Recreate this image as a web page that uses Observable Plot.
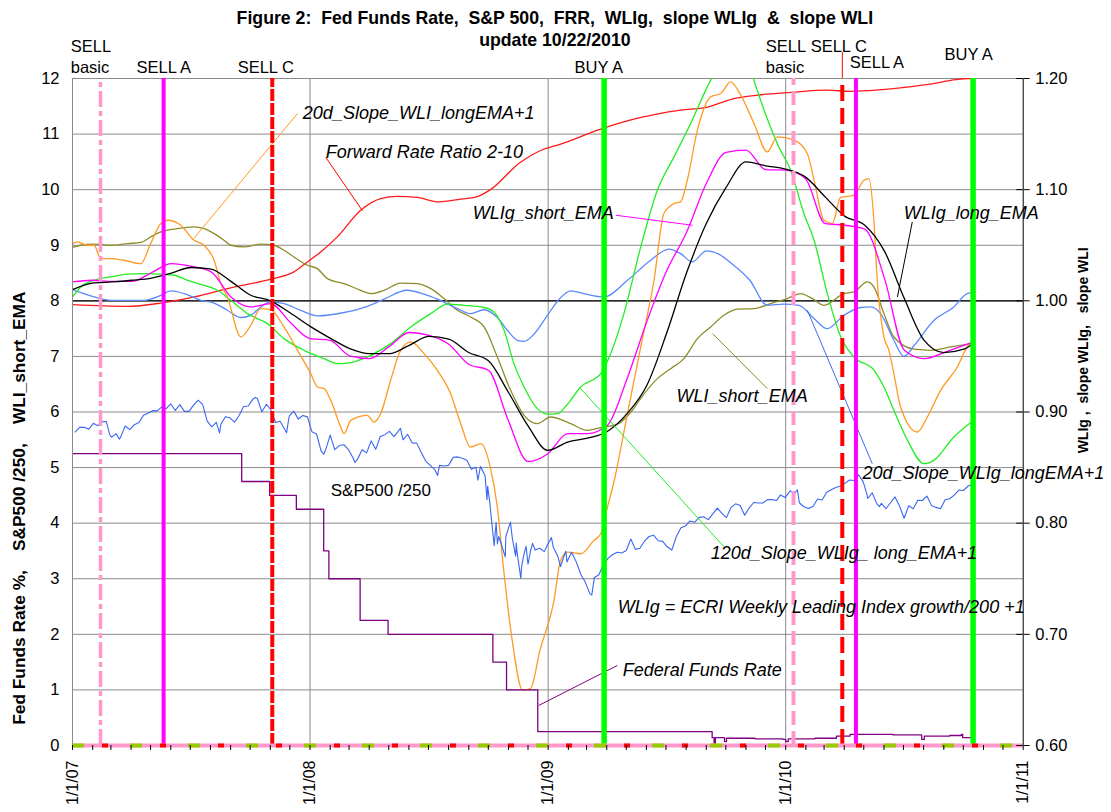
<!DOCTYPE html>
<html>
<head>
<meta charset="utf-8">
<script src="https://cdn.jsdelivr.net/npm/d3@7"></script>
<script src="https://cdn.jsdelivr.net/npm/@observablehq/plot@0.6"></script>
<style>
  body { margin: 0; background: #fff; }
  #chart { position: relative; width: 1111px; height: 812px; }
  #chart svg text { white-space: pre; }
</style>
</head>
<body>
<div id="chart"></div>
<script>
const FONT = "'Liberation Sans', Arial, Helvetica, sans-serif";
const T0 = Date.UTC(2007, 0, 1);
// time readings are given in months since 1/1/2007 (fractional), or as ISO dates
const M = m => new Date(T0 + m * 30.4375 * 864e5);
const D = s => new Date(s + "T00:00:00Z");

// ---------- Federal Funds Rate (%) ----------
const fedDates = ["2007-01-01","2007-09-18","2007-10-31","2007-12-11","2008-01-22","2008-01-30","2008-03-18","2008-04-30","2008-10-08","2008-10-29","2008-12-16","2009-09-10","2009-09-13","2009-09-15","2009-09-29","2009-10-02","2009-11-15","2009-12-28","2010-01-01","2010-01-05","2010-02-15","2010-03-20","2010-04-10","2010-06-15","2010-07-27","2010-07-29","2010-08-02","2010-09-10","2010-09-28","2010-09-30","2010-10-15"];
const fedRate  = [5.25,4.75,4.5,4.25,3.5,3.0,2.25,2.0,1.5,1.0,0.25,0.14,0.03,0.14,0.07,0.13,0.12,0.11,0.07,0.12,0.13,0.17,0.2,0.19,0.19,0.11,0.17,0.18,0.2,0.14,0.18];

// ---------- S&P 500 (index level; plotted /250) ----------
const spDates = ["2007-01-05","2007-01-12","2007-01-19","2007-01-26","2007-02-02","2007-02-09","2007-02-16","2007-02-22","2007-02-27","2007-03-02","2007-03-09","2007-03-14","2007-03-16","2007-03-23","2007-03-30","2007-04-06","2007-04-13","2007-04-20","2007-04-27","2007-05-04","2007-05-11","2007-05-18","2007-05-25","2007-06-01","2007-06-08","2007-06-15","2007-06-22","2007-06-29","2007-07-06","2007-07-13","2007-07-20","2007-07-27","2007-08-03","2007-08-10","2007-08-15","2007-08-17","2007-08-24","2007-08-31","2007-09-07","2007-09-14","2007-09-21","2007-09-28","2007-10-05","2007-10-09","2007-10-12","2007-10-19","2007-10-26","2007-11-02","2007-11-09","2007-11-16","2007-11-26","2007-11-30","2007-12-07","2007-12-14","2007-12-21","2007-12-28",
"2008-01-04","2008-01-11","2008-01-18","2008-01-22","2008-01-25","2008-02-01","2008-02-08","2008-02-15","2008-02-22","2008-02-29","2008-03-07","2008-03-10","2008-03-14","2008-03-21","2008-03-28","2008-04-04","2008-04-11","2008-04-18","2008-04-25","2008-05-02","2008-05-09","2008-05-19","2008-05-23","2008-05-30","2008-06-06","2008-06-13","2008-06-20","2008-06-27","2008-07-03","2008-07-11","2008-07-15","2008-07-18","2008-07-25","2008-08-01","2008-08-08","2008-08-15","2008-08-22","2008-08-29","2008-09-05","2008-09-12","2008-09-15","2008-09-19","2008-09-26","2008-09-29","2008-09-30","2008-10-03","2008-10-10","2008-10-13","2008-10-15","2008-10-17","2008-10-22","2008-10-27","2008-10-28","2008-10-31","2008-11-04","2008-11-07","2008-11-12","2008-11-13","2008-11-14","2008-11-20","2008-11-21","2008-11-24","2008-11-28","2008-12-01","2008-12-05","2008-12-08","2008-12-12","2008-12-19","2008-12-26","2008-12-31",
"2009-01-06","2009-01-09","2009-01-16","2009-01-20","2009-01-23","2009-01-28","2009-01-30","2009-02-06","2009-02-13","2009-02-20","2009-02-27","2009-03-06","2009-03-09","2009-03-13","2009-03-20","2009-03-27","2009-04-03","2009-04-09","2009-04-17","2009-04-24","2009-05-01","2009-05-08","2009-05-15","2009-05-22","2009-05-29","2009-06-05","2009-06-12","2009-06-19","2009-06-26","2009-07-02","2009-07-10","2009-07-17","2009-07-24","2009-07-31","2009-08-07","2009-08-14","2009-08-21","2009-08-28","2009-09-04","2009-09-11","2009-09-18","2009-09-25","2009-10-02","2009-10-09","2009-10-16","2009-10-23","2009-10-30","2009-11-06","2009-11-13","2009-11-20","2009-11-27","2009-12-04","2009-12-11","2009-12-18","2009-12-24","2009-12-31",
"2010-01-08","2010-01-15","2010-01-19","2010-01-22","2010-01-29","2010-02-05","2010-02-12","2010-02-19","2010-02-26","2010-03-05","2010-03-12","2010-03-19","2010-03-26","2010-04-02","2010-04-09","2010-04-16","2010-04-23","2010-04-30","2010-05-06","2010-05-07","2010-05-14","2010-05-21","2010-05-25","2010-05-28","2010-06-04","2010-06-11","2010-06-18","2010-06-25","2010-07-02","2010-07-09","2010-07-16","2010-07-23","2010-07-30","2010-08-06","2010-08-13","2010-08-20","2010-08-27","2010-09-03","2010-09-10","2010-09-17","2010-09-24","2010-10-01","2010-10-08","2010-10-15"];
const spClose = [1410,1431,1431,1423,1449,1438,1456,1457,1399,1387,1402,1378,1387,1437,1421,1443,1453,1485,1494,1506,1505,1522,1515,1537,1507,1533,1503,1503,1531,1553,1534,1459,1433,1453,1406,1445,1479,1474,1454,1484,1525,1527,1557,1565,1561,1501,1535,1509,1453,1458,1407,1481,1504,1468,1484,1478,
1411,1401,1325,1310,1330,1396,1331,1349,1353,1331,1294,1273,1288,1330,1316,1370,1332,1390,1398,1413,1389,1426,1375,1400,1361,1360,1318,1278,1262,1240,1214,1260,1257,1260,1296,1298,1292,1283,1242,1252,1193,1255,1213,1106,1166,1099,899,1003,907,940,896,848,941,969,1005,930,852,911,873,752,800,851,896,816,876,909,879,887,872,903,
935,890,850,805,832,874,826,869,827,770,735,683,677,756,768,815,842,857,869,866,877,929,882,887,919,940,946,921,918,896,879,940,979,987,1010,1004,1026,1029,1016,1042,1068,1044,1025,1071,1087,1079,1036,1069,1093,1091,1091,1106,1106,1102,1127,1115,
1145,1136,1150,1092,1074,1066,1075,1109,1104,1139,1150,1160,1167,1179,1194,1192,1217,1187,1128,1111,1136,1088,1074,1089,1065,1092,1118,1077,1022,1078,1065,1103,1102,1122,1080,1071,1065,1105,1110,1126,1149,1147,1166,1176];

// ---------- Forward Rate Ratio 2-10 (left-scale units) ----------
const frrT = [0,2.78,4.46,6.14,7.82,10.01,11.18,11.86,12.53,13.37,14.55,15.56,16.4,17.4,18.5,19.6,20.4,21.1,22.6,23.6,24.65,26.67,28.7,29.5,30.7,32.0,33.3,34.6,36.3,38.1,39.3,40.6,42.0,43.3,44.6,45.2,45.43];
const frrV = [7.93,7.9,7.96,8.07,8.22,8.39,8.52,8.7,8.88,9.15,9.63,9.84,9.88,9.86,9.78,9.83,9.87,10.0,10.49,10.7,10.82,11.09,11.3,11.36,11.43,11.48,11.63,11.7,11.75,11.79,11.77,11.79,11.84,11.9,11.98,12.0,12.0];

// ---------- WLIg_long_EMA (black) ----------
const longT = [0,1,2,3,4,5,6,7,8,9,10,11,12,13,14,15,16,17,18,19,20,21,22,23,24,25,26,27,28,29,30,31,32,33,34,35,36,37,38,39,40,41,42,43,44,45,45.43];
const longV = [8.2,8.32,8.34,8.37,8.41,8.5,8.6,8.57,8.35,8.1,8.0,7.78,7.54,7.33,7.14,7.05,7.05,7.2,7.36,7.31,7.07,6.92,6.36,5.75,5.31,5.46,5.53,5.65,5.97,6.48,7.42,8.5,9.39,10.04,10.5,10.43,10.37,10.23,9.87,9.52,9.36,8.89,8.04,7.29,7.07,7.13,7.22];

// ---------- WLIg_short_EMA (magenta) ----------
const shortT = longT;
const shortV = [8.34,8.37,8.35,8.35,8.51,8.67,8.62,8.52,8.07,7.89,7.95,7.61,7.32,7.29,7.01,6.96,7.18,7.43,7.38,7.22,6.86,6.75,5.85,5.11,5.25,5.61,5.61,5.76,6.6,7.63,8.54,9.23,10.11,10.67,10.71,10.36,10.35,10.2,9.39,9.36,9.29,8.4,7.11,6.96,7.07,7.2,7.25];

// ---------- 20d_Slope_WLI_longEMA+1 (orange) ----------
const wliSlopeT = [0,0.25,0.76,1.09,1.43,1.93,2.6,3.45,3.95,4.46,4.8,5.47,6.14,6.64,7.15,7.49,7.82,8.5,9.0,9.5,10.0,10.68,11.36,12.03,12.37,12.7,13.04,13.54,13.71,14.05,14.89,15.22,15.56,16.06,16.57,17.08,17.75,18.42,19.09,19.6,20.1,20.61,21.11,21.45,21.79,22.2,22.73,23.13,23.6,24.31,24.64,24.99,25.66,26.33,26.67,27.01,27.34,28.02,28.69,29.36,29.86,30.37,30.7,31.04,31.55,32.22,32.73,33.23,33.74,34.41,35.08,35.59,36.43,37.1,37.44,37.94,38.36,38.78,39.45,39.96,40.21,40.46,40.63,40.97,41.22,41.47,41.81,42.65,43.16,43.83,44.67,45.17,45.43];
const wliSlopeV = [9.03,9.06,9.0,9.0,8.76,8.76,8.73,8.67,9.03,9.39,9.45,9.36,9.09,9.0,8.73,8.31,8.07,7.35,7.56,7.86,7.84,7.53,7.11,6.69,6.45,6.42,6.21,5.73,5.61,5.85,5.94,5.82,5.97,6.57,7.11,7.26,7.05,6.75,6.33,5.79,5.37,5.43,4.98,4.29,3.09,1.89,0.99,1.03,1.71,2.61,3.33,3.48,3.45,3.69,3.81,4.29,4.75,5.97,7.17,8.37,9.57,9.75,9.78,10.17,11.07,11.67,11.73,11.94,11.7,11.19,10.68,10.95,10.89,10.65,10.17,9.45,9.39,9.86,9.9,10.17,10.2,9.45,8.37,7.35,7.11,6.69,6.09,5.64,5.91,6.39,6.81,7.17,7.29];

// ---------- 120d_Slope_WLIg_long_EMA+1 (green) ----------
const slope120T = [0,0.42,1.09,1.93,2.78,3.62,4.46,5.13,5.81,6.64,7.32,7.99,8.83,9.84,10.68,11.69,12.7,13.37,13.88,15.06,16.07,17.08,18.09,18.93,19.77,20.78,21.28,21.79,22.29,22.8,23.47,23.98,24.49,24.99,25.66,26.67,27.17,27.84,28.69,29.53,30.37,31.21,32.05,32.8,33.5,34.2,34.4,34.98,35.66,36.26,36.93,37.44,38.11,38.79,39.45,40.47,40.97,41.47,42.16,42.99,43.49,44.5,45.51];
const slope120V = [8.07,8.25,8.37,8.43,8.48,8.49,8.48,8.46,8.37,8.28,8.19,8.01,7.77,7.59,7.32,7.11,6.96,6.87,6.88,7.02,7.23,7.53,7.77,7.94,7.92,7.88,7.8,7.47,6.87,6.45,6.06,5.96,5.97,6.14,6.45,6.69,7.05,7.77,8.97,9.99,10.59,11.19,11.85,12.33,12.5,12.18,11.97,11.37,10.77,10.35,9.57,9.09,8.13,7.35,6.99,6.75,6.45,6.03,5.49,5.07,5.13,5.55,5.85];

// ---------- WLI_short_EMA (olive) ----------
const wliShortT = [0,0.42,1.09,1.93,2.78,3.45,3.95,4.46,5.3,6.14,6.64,7.15,7.65,7.99,8.66,9.5,10.17,10.68,11.18,11.86,12.36,12.87,13.71,14.55,15.06,15.73,16.57,17.41,18.09,18.76,19.43,20.1,20.78,21.45,22.12,22.8,23.47,24.14,25.15,25.99,26.67,27.51,28.1,28.8,29.53,30.2,30.87,31.55,32.22,32.89,33.56,34.41,35.25,36.09,36.76,37.35,37.94,38.95,39.45,40.13,40.46,40.97,41.47,42.49,43.33,44.34,45.4];
const wliShortV = [8.96,9.0,9.02,9.0,9.03,9.05,9.15,9.24,9.3,9.33,9.3,9.21,9.09,9.0,8.97,9.02,9.0,8.91,8.79,8.64,8.58,8.4,8.31,8.19,8.13,8.19,8.32,8.31,8.22,8.04,7.83,7.71,7.53,6.99,6.39,5.94,5.79,5.91,5.79,5.67,5.72,5.78,5.96,6.3,6.6,6.78,6.96,7.32,7.53,7.74,7.85,7.86,7.95,8.04,8.13,8.04,7.92,8.13,8.16,8.34,8.25,7.77,7.35,7.13,7.11,7.17,7.23];

// ---------- 20d_Slope_WLIg_longEMA+1 (blue) ----------
const slope20T = [0,1.09,1.93,3.62,4.46,4.96,5.64,6.48,7.15,7.82,8.5,9.0,9.5,10.01,10.68,11.52,12.37,13.71,14.89,15.73,16.89,17.75,18.42,19.43,20.1,20.78,21.45,21.96,22.46,22.8,23.3,23.98,24.65,25.15,25.82,26.83,28.02,29.19,30.11,30.7,31.29,32.0,32.63,33.28,34.2,35.08,35.9,36.68,37.44,38.11,38.95,39.8,40.3,40.8,41.47,41.98,42.5,43.5,44.5,45.17,45.6];
const slope20V = [8.2,8.07,8.01,8.01,8.1,8.18,8.13,8.01,7.96,7.83,7.7,7.74,7.89,7.98,7.95,7.83,7.73,7.79,7.9,8.03,8.19,8.12,8.03,7.86,7.77,7.84,7.7,7.47,7.29,7.27,7.4,7.74,8.06,8.18,8.13,8.07,8.37,8.73,8.93,8.85,8.7,8.9,8.84,8.67,8.37,7.92,7.94,7.92,7.68,7.5,7.74,7.88,7.89,7.77,7.29,7.0,7.2,7.65,7.89,8.13,8.16];

// ---------- signals ----------
const sigDates = ["2007-02-13","2007-05-21","2007-11-04","2009-03-28","2010-01-13","2010-03-29","2010-04-19","2010-10-16"];
const sigTypes = ["SELL basic","SELL A","SELL C","BUY A","SELL basic","SELL C","SELL A","BUY A"];
const sigLabelText = ["SELL","basic","SELL A","SELL C","BUY A","SELL","basic","SELL C","SELL A","BUY A"];
const sigLabelT = [-0.09,-0.09,4.61,9.76,26.57,35.0,35.0,37.27,39.24,44.03];
const sigLabelV = [12.58,12.2,12.2,12.2,12.2,12.58,12.2,12.58,12.29,12.42];
const sigLabelCentered = [false,false,true,true,true,false,false,false,false,false];

// ---------- annotations ----------
const noteText = ["20d_Slope_WLI_longEMA+1","Forward Rate Ratio 2-10","WLIg_short_EMA","WLIg_long_EMA","WLI_short_EMA","20d_Slope_WLIg_longEMA+1","120d_Slope_WLIg_ long_EMA+1","S&P500 /250","WLIg = ECRI Weekly Leading Index growth/200 +1","Federal Funds Rate"];
const noteT = [11.63,12.79,20.21,41.97,30.5,39.89,32.22,13.04,27.53,27.78];
const noteV = [11.37,10.67,9.57,9.57,6.28,4.89,3.46,4.59,2.48,1.35];
const noteItalic = [true,true,true,true,true,true,true,false,true,true];
const leadT1 = [11.36,12.79,27.43,42.4,35.08,37.1,25.66,27.51];
const leadV1 = [11.37,10.58,9.54,9.42,6.42,7.83,6.42,1.44];
const leadT2 = [6.12,14.64,31.3,41.65,32.32,40.38,32.88,23.54];
const leadV2 = [9.12,9.62,9.36,8.07,7.41,5.07,3.58,0.72];
const leadColor = ["#ff9922","#ff0000","#ff00ff","#000000","#8c8c2a","#3a6cf5","#22ee22","#800080"];

// ---------- axes ----------
const leftTicks = [0,1,2,3,4,5,6,7,8,9,10,11,12];
const gridLevels = [1,2,3,4,5,6,7,8,9,10,11,12];
const yearTicks = ["2007-01-01","2008-01-01","2009-01-01","2010-01-01","2011-01-01"];
const yearLabels = ["1/1/07","1/1/08","1/1/09","1/1/10","1/1/11"];
const rightTicks = [0.60,0.70,0.80,0.90,1.00,1.10,1.20];
const rightTickLabels = ["0.60","0.70","0.80","0.90","1.00","1.10","1.20"];
const rightToLeft = r => (r - 0.60) * 20;   // right axis = 0.60 + left/20
const leftTitle = "Fed Funds Rate %,    S&P500 /250,    WLI_short_EMA";
const rightTitle = "WLIg ,  slope WLIg,   slope WLI";

const series = (ts, vs, f) => ts.map((t, i) => ({date: f(t), value: vs[i]}));
const fed = series(fedDates, fedRate, D);
const sp = series(spDates, spClose.map(v => v / 250), D);
const frr = series(frrT, frrV, M);
const wlLong = series(longT, longV, M);
const wlShort = series(shortT, shortV, M);
const wliSlope = series(wliSlopeT, wliSlopeV, M);
const slope120 = series(slope120T, slope120V, M);
const wliShort = series(wliShortT, wliShortV, M);
const slope20 = series(slope20T, slope20V, M);

const X0 = D("2007-01-01"), X1 = D("2011-01-01");
const monthTicks = d3.utcMonth.range(X0, D("2011-01-02"));
const line = (data, stroke, extra = {}) => Plot.line(data, {x: "date", y: "value", stroke, strokeWidth: 1.3, curve: "monotone-x", clip: true, ...extra});

const sigStyle = {
  "SELL basic": [{stroke: "#ff99cc", strokeWidth: 3.5, strokeDasharray: "16,4,5,4"}, {stroke: "#ff99cc", strokeWidth: 4, strokeDasharray: "14,6"}],
  "SELL A": [{stroke: "#ff00ff", strokeWidth: 4}],
  "SELL C": [{stroke: "#ff0000", strokeWidth: 4, strokeDasharray: "12,2"}, {stroke: "#ff0000", strokeWidth: 4, strokeDasharray: "16,7"}],
  "BUY A": [{stroke: "#00ff00", strokeWidth: 5.5}]
};
const sigMarks = sigDates.map((d, i) => {
  const styles = sigStyle[sigTypes[i]];
  const st = styles[Math.min(styles.length - 1, D(d) > D("2009-06-01") ? 1 : 0)];
  return Plot.ruleX([D(d)], {y1: 0, y2: 12, ...st});
});

const idx = arr => arr.map((_, i) => i);
const noteItalicIdx = idx(noteText).filter(i => noteItalic[i]);
const notePlainIdx = idx(noteText).filter(i => !noteItalic[i]);
const sigMidIdx = idx(sigLabelText).filter(i => sigLabelCentered[i]);
const sigStartIdx = idx(sigLabelText).filter(i => !sigLabelCentered[i]);

const chart = Plot.plot({
  width: 1111,
  height: 812,
  marginLeft: 72,
  marginRight: 88.3,
  marginTop: 78,
  marginBottom: 67,
  style: {fontFamily: FONT, fontSize: "16px", color: "#000", background: "#fff", overflow: "visible"},
  x: {type: "utc", domain: [X0, X1], label: null},
  y: {domain: [0, 12], label: null},
  marks: [
    Plot.ruleY(gridLevels, {stroke: "#8a8a8a", strokeWidth: 1}),
    Plot.ruleX(yearTicks.slice(0, 4).map(D), {stroke: "#8a8a8a", strokeWidth: 1}),
    Plot.ruleY([8], {stroke: "#000", strokeWidth: 1.2}),
    line(frr, "#ff1a1a"),
    line(wliShort, "#8c8c2a"),
    line(slope20, "#5a88ff"),
    line(slope120, "#22ee22"),
    line(wliSlope, "#ff9922"),
    line(wlShort, "#ff00ff"),
    line(wlLong, "#000000"),
    Plot.line(sp, {x: "date", y: "value", stroke: "#3a66f0", strokeWidth: 1.1, clip: true}),
    Plot.line(fed, {x: "date", y: "value", stroke: "#800080", strokeWidth: 1.3, curve: "step-after", clip: true}),
    Plot.link(idx(leadT1), {x1: i => M(leadT1[i]), y1: i => leadV1[i], x2: i => M(leadT2[i]), y2: i => leadV2[i], stroke: i => leadColor[i], strokeWidth: 1}),
    ...sigMarks,
    Plot.ruleX([D("2010-03-29")], {y1: 12, y2: 12.47, stroke: "#ff0000", strokeWidth: 1}),
    // baseline signal strip
    Plot.ruleY([0], {stroke: "#ff99cc", strokeWidth: 4}),
    Plot.ruleY([0], {stroke: "#99cc00", strokeWidth: 4, strokeDasharray: "12,46"}),
    Plot.ruleY([0], {stroke: "#ff0000", strokeWidth: 4, strokeDasharray: "6,52", strokeDashoffset: -30}),
    // axis lines
    Plot.ruleX([X1], {stroke: "#000", strokeWidth: 1}),
    Plot.ruleX([X0], {stroke: "#8a8a8a", strokeWidth: 1}),
    Plot.ruleY(rightTicks.map(rightToLeft), {x1: D("2010-12-22"), x2: X1, stroke: "#000", strokeWidth: 1}),
    Plot.axisY(leftTicks, {anchor: "left", label: null, tickSize: 0, tickPadding: 13, fontSize: 16.5, tickFormat: d => String(d)}),
    Plot.axisY(rightTicks.map(rightToLeft), {anchor: "right", label: null, tickSize: 6, tickPadding: 6, fontSize: 16.5,
      tickFormat: d => rightTickLabels[rightTicks.findIndex(r => Math.abs(rightToLeft(r) - d) < 1e-6)]}),
    Plot.axisX(monthTicks, {anchor: "bottom", label: null, tickSize: 5, tickFormat: () => ""}),
    Plot.axisX(yearTicks.map(D), {anchor: "bottom", label: null, tickSize: 0, tickPadding: 15, tickRotate: -90, fontSize: 16,
      tickFormat: d => yearLabels[yearTicks.findIndex(s => +D(s) === +d)]}),
    // annotations
    Plot.text(noteItalicIdx, {x: i => M(noteT[i]), y: i => noteV[i], text: i => noteText[i], textAnchor: "start",
      fontStyle: "italic", fontSize: 18, fill: "#000"}),
    Plot.text(notePlainIdx, {x: i => M(noteT[i]), y: i => noteV[i], text: i => noteText[i], textAnchor: "start",
      fontSize: 17, fill: "#000"}),
    Plot.text(sigMidIdx, {x: i => M(sigLabelT[i]), y: i => sigLabelV[i], text: i => sigLabelText[i],
      textAnchor: "middle", fontSize: 16.5, fill: "#000"}),
    Plot.text(sigStartIdx, {x: i => M(sigLabelT[i]), y: i => sigLabelV[i], text: i => sigLabelText[i],
      textAnchor: "start", fontSize: 16.5, fill: "#000"}),
    // titles and axis titles
    Plot.text(["Figure 2:  Fed Funds Rate,  S&P 500,  FRR,  WLIg,  slope WLIg  &  slope WLI"], {frameAnchor: "top", lineAnchor: "middle", dx: 7, dy: -60, fontWeight: "bold", fontSize: 17.7}),
    Plot.text(["update 10/22/2010"], {frameAnchor: "top", lineAnchor: "middle", dx: 7, dy: -38, fontWeight: "bold", fontSize: 17.7}),
    Plot.text([leftTitle], {x: () => D("2006-10-11"), y: () => 4.27, rotate: -90, fontWeight: "bold", fontSize: 17.3}),
    Plot.text([rightTitle], {x: () => D("2011-04-04"), y: () => 7.11, rotate: -90, fontWeight: "bold", fontSize: 14})
  ]
});
document.getElementById("chart").appendChild(chart);
</script>
</body>
</html>
